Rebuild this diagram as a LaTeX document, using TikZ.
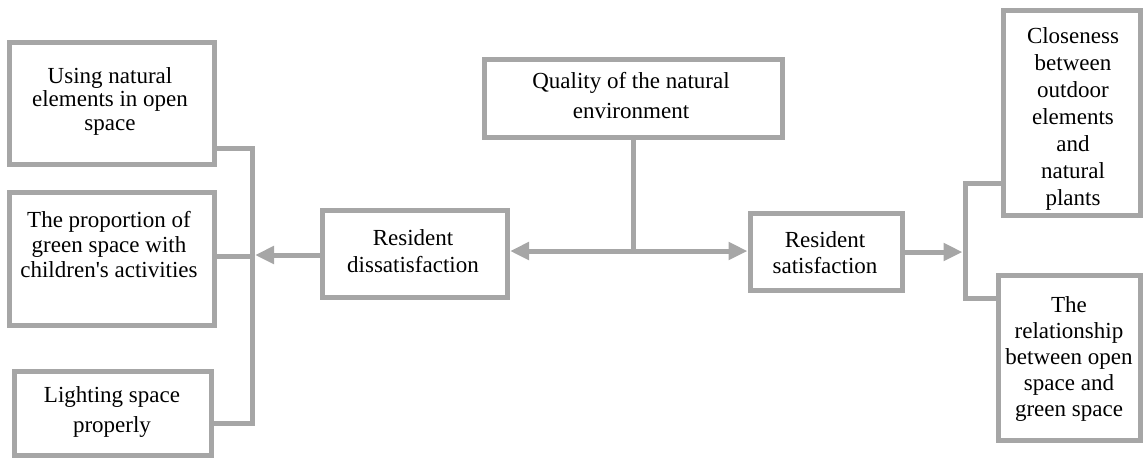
\documentclass[tikz,border=0pt]{standalone}
\usepackage{fontspec}
\setmainfont{Liberation Serif}
\usetikzlibrary{arrows.meta}
\definecolor{framegray}{RGB}{166,166,166}
\newcommand\setfs[1]{\fontsize{23}{#1}\selectfont}
\begin{document}
\begin{tikzpicture}[x=1pt,y=-1pt,
  frame/.style={draw=framegray,line width=5pt,fill=white,inner sep=0pt,
    minimum width=#1},
  frame/.default=100pt,
  txt/.style={align=center,anchor=base,inner sep=0pt,text=black},
  link/.style={draw=framegray,line width=5pt},
  tip/.style={link,-{Triangle[length=19pt,width=17pt]}},
  both/.style={link,{Triangle[length=19pt,width=17pt]}-{Triangle[length=19pt,width=17pt]}}]
\useasboundingbox (0,0) rectangle (1143,459);
\begin{scope}
\clip (0,0) rectangle (1143,459);

% left column of factors (text nodes are placed by their last baseline)
\node[frame=205pt,minimum height=122pt] (use) at (112,103.5) {};
\node[frame=205pt,minimum height=133pt] (prop) at (112,259) {};
\node[frame=197pt,minimum height=84pt] (light) at (112.5,413) {};
\node[txt,font=\setfs{23.5}] (useT) at (110,130) {Using natural\\elements in open\\space};
\node[txt,font=\setfs{25}] (propT) at (109,277) {The proportion of\\green space with\\children\textquotesingle s activities};
\node[txt,font=\setfs{30}] (lightT) at (112,432) {Lighting space\\properly};

% centre
\node[frame=298pt,minimum height=78pt] (qual) at (633.5,98.5) {};
\node[txt,font=\setfs{30}] (qualT) at (631,118) {Quality of the natural\\environment};
\node[frame=185pt,minimum height=87pt] (dis) at (415,254) {};
\node[txt,font=\setfs{27}] (disT) at (413,272) {Resident\\dissatisfaction};
\node[frame=152pt,minimum height=77pt] (sat) at (826,251.5) {};
\node[txt,font=\setfs{26}] (satT) at (825,273) {Resident\\satisfaction};

% right column
\node[frame=137pt,minimum height=205pt] (close) at (1071.5,112.5) {};
\node[txt,font=\setfs{27}] (closeT) at (1073,205) {Closeness\\between\\outdoor\\elements\\and\\natural\\plants};
\node[frame=142pt,minimum height=165pt] (rel) at (1069,357.5) {};
\node[txt,font=\setfs{26}] (relT) at (1069,416) {The\\relationship\\between open\\space and\\green space};

% junction points
\coordinate (lt) at (252,148);
\coordinate (lm) at (252,256);
\coordinate (lb) at (252,423);
\coordinate (ltip) at (255,255);
\coordinate (mid) at (633.5,251);
\coordinate (rt) at (965,183);
\coordinate (rb) at (965,298);
\coordinate (rtip) at (962.5,252);

% connectors
\draw[link] (use.east |- lt) -- (lt) -- (lb) -- (light.east |- lb);
\draw[link] (prop.east |- lm) -- (lm);
\draw[tip] (dis.west |- ltip) -- (ltip);
\draw[link] (qual.south) -- (mid);
\draw[both] (dis.east |- mid) -- (sat.west |- mid);
\draw[tip] (sat.east |- rtip) -- (rtip);
\draw[link] (close.west |- rt) -- (rt) -- (rb) -- (rel.west |- rb);
\end{scope}
\end{tikzpicture}
\end{document}
